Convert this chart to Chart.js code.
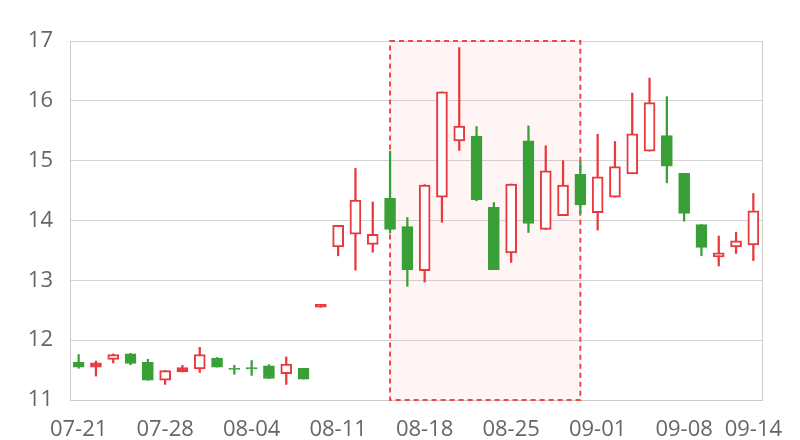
<!DOCTYPE html>
<html>
<head>
<meta charset="utf-8">
<script src="https://cdn.jsdelivr.net/npm/chart.js@4"></script>
<style>
  html, body { margin: 0; padding: 0; background: #fff; }
  #wrap { width: 800px; height: 440px; }
</style>
</head>
<body>
<div id="wrap"><canvas id="kline"></canvas></div>
<script>
// Trading days (category axis)
const dates = [
    '07-21', '07-22', '07-23', '07-24', '07-25',
    '07-28', '07-29', '07-30', '07-31', '08-01',
    '08-04', '08-05', '08-06', '08-07', '08-08',
    '08-11', '08-12', '08-13', '08-14', '08-15',
    '08-18', '08-19', '08-20', '08-21', '08-22',
    '08-25', '08-26', '08-27', '08-28', '08-29',
    '09-01', '09-02', '09-03', '09-04', '09-05',
    '09-08', '09-09', '09-10', '09-11', '09-14'
];

// OHLC values
const opens = [
    11.63, 11.55, 11.68, 11.77, 11.63, 11.33, 11.47, 11.52, 11.70, 11.53,
    11.54, 11.57, 11.44, 11.53, 12.55, 13.56, 13.77, 13.60, 14.37, 13.90,
    13.16, 14.39, 15.33, 15.41, 14.22, 13.46, 15.33, 13.85, 14.08, 14.77,
    14.13, 14.39, 14.78, 15.16, 15.42, 14.79, 13.93, 13.39, 13.56, 13.59
];
const highs = [
    11.76, 11.65, 11.77, 11.78, 11.68, 11.49, 11.58, 11.88, 11.71, 11.58,
    11.66, 11.59, 11.72, 11.53, 12.60, 13.92, 14.87, 14.31, 15.16, 14.05,
    14.60, 16.15, 16.89, 15.57, 14.30, 14.61, 15.58, 15.25, 15.00, 14.99,
    15.44, 15.32, 16.13, 16.38, 16.07, 14.79, 13.93, 13.74, 13.80, 14.45
];
const lows = [
    11.53, 11.40, 11.62, 11.59, 11.33, 11.26, 11.47, 11.46, 11.55, 11.43,
    11.41, 11.36, 11.26, 11.35, 12.55, 13.41, 13.17, 13.47, 13.79, 12.90,
    12.97, 13.97, 15.17, 14.33, 13.18, 13.30, 13.80, 13.85, 14.08, 14.12,
    13.84, 14.39, 14.78, 15.16, 14.63, 13.99, 13.41, 13.24, 13.45, 13.33
];
const closes = [
    11.55, 11.62, 11.76, 11.61, 11.33, 11.49, 11.54, 11.76, 11.55, 11.51,
    11.52, 11.36, 11.60, 11.35, 12.60, 13.92, 14.34, 13.77, 13.85, 13.18,
    14.59, 16.15, 15.58, 14.35, 13.18, 14.61, 13.95, 14.83, 14.59, 14.26,
    14.73, 14.90, 15.45, 15.97, 14.91, 14.12, 13.55, 13.46, 13.66, 14.16
];

// Highlighted range (first and last day of the box)
const highlightFrom = '08-14';
const highlightTo = '08-29';

const UP = '#e8393e';
const DOWN = '#38a036';

const isUp = closes.map((c, i) => c >= opens[i]);
// very flat up-candles look solid, everything else up is hollow
const bodyFill = closes.map((c, i) => !isUp[i] ? DOWN : (c - opens[i] < 0.07 ? UP : '#ffffff'));

// frame + shaded range, drawn under the candles
const rangeBox = {
    id: 'rangeBox',
    beforeDatasetsDraw(chart) {
        const { ctx, chartArea: a, scales: { x } } = chart;
        const x1 = x.getPixelForValue(dates.indexOf(highlightFrom));
        const x2 = x.getPixelForValue(dates.indexOf(highlightTo));
        ctx.save();
        ctx.strokeStyle = '#cccccc';
        ctx.lineWidth = 1;
        ctx.beginPath();
        ctx.moveTo(a.right + 0.5, a.top);
        ctx.lineTo(a.right + 0.5, a.bottom);
        ctx.stroke();

        ctx.fillStyle = 'rgba(255, 90, 90, 0.06)';
        ctx.fillRect(x1, a.top, x2 - x1, a.bottom - a.top);
        ctx.strokeStyle = '#f0474c';
        ctx.lineWidth = 2;
        ctx.setLineDash([5, 4]);
        ctx.strokeRect(x1, a.top, x2 - x1, a.bottom - a.top);
        ctx.restore();
    }
};

new Chart(document.getElementById('kline').getContext('2d'), {
    type: 'bar',
    data: {
        labels: dates,
        datasets: [
            {
                label: 'body',
                data: dates.map((d, i) => [opens[i], closes[i]]),
                backgroundColor: bodyFill,
                borderColor: isUp.map(u => u ? UP : DOWN),
                borderWidth: 2,
                borderSkipped: false,
                barThickness: 11,
                grouped: false,
                order: 1
            },
            {
                label: 'wick',
                data: dates.map((d, i) => [lows[i], highs[i]]),
                backgroundColor: isUp.map(u => u ? UP : DOWN),
                borderWidth: 0,
                barThickness: 1.6,
                grouped: false,
                order: 2
            }
        ]
    },
    options: {
        responsive: true,
        maintainAspectRatio: false,
        animation: false,
        layout: { padding: { left: 0, right: 38, top: 41, bottom: 0 } },
        plugins: {
            legend: { display: false },
            tooltip: { enabled: false }
        },
        scales: {
            x: {
                grid: { display: false, drawTicks: false },
                border: { display: true, color: '#cccccc' },
                ticks: {
                    autoSkip: false,
                    maxRotation: 0,
                    padding: 17,
                    color: '#666666',
                    font: { family: 'Open Sans', size: 22 },
                    callback: function (v, i) {
                        return (i % 5 === 0 || i === dates.length - 1) ? dates[i] : '';
                    }
                },
                afterFit: s => { s.height = 40; }
            },
            y: {
                min: 11,
                max: 17,
                grid: { color: '#d4d4d4', drawTicks: false },
                border: { display: true, color: '#cccccc' },
                ticks: {
                    stepSize: 1,
                    padding: 17,
                    color: '#666666',
                    font: { family: 'Open Sans', size: 22 }
                },
                afterFit: s => { s.width = 70; }
            }
        }
    },
    plugins: [rangeBox]
});
</script>
</body>
</html>
